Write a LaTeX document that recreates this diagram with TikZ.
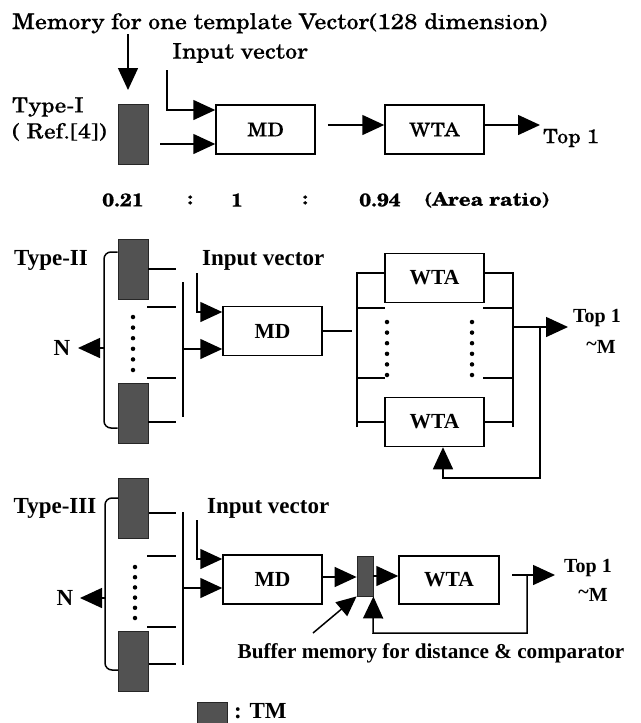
\documentclass[tikz,border=0pt]{standalone}
\usepackage{fontspec}
\setmainfont{Liberation Serif}
\newfontfamily\cent[FakeStretch=1.12,FakeBold=0.3]{TeX Gyre Schola}
\usetikzlibrary{arrows.meta}
\begin{document}
\begin{tikzpicture}[x=1pt,y=-1pt,
  ln/.style={line width=1.5pt},
  arr/.style={line width=1.5pt,-{Triangle[length=22pt,width=20pt]}},
  box/.style={draw,line width=1.5pt,inner sep=0pt,minimum width=99pt,minimum height=49pt},
  mem/.style={draw=black!85,fill=black!68,line width=0.8pt,inner sep=0pt,minimum width=30pt,minimum height=60pt},
  ct/.style={font=\cent\fontsize{21.5}{23}\selectfont},
  cts/.style={font=\cent\fontsize{19}{21}\selectfont},
  ctb/.style={font=\cent\bfseries\fontsize{18.5}{21}\selectfont},
  tb/.style={font=\bfseries\fontsize{23}{25}\selectfont},
  tbm/.style={font=\bfseries\fontsize{21.5}{24}\selectfont},
  tbs/.style={font=\bfseries\fontsize{20}{22}\selectfont},
  dotc/.style={circle,fill,inner sep=0pt,minimum size=4.5pt}]
\useasboundingbox[fill=white] (0,0) rectangle (640,723);

% ---------------- Type-I ----------------
\node[ct,anchor=base west,inner sep=0pt] (title) at (12,29) {Memory for one template Vector(128 dimension)};
\coordinate (t1s) at (128,34);
\coordinate (t1e) at (128,90);
\draw[arr] (t1s) -- (t1e);
\node[ct,font=\cent\fontsize{21}{23}\selectfont,anchor=west,inner sep=0pt] (type1) at (12,107) {Type-I};
\node[ct,font=\cent\fontsize{21}{23}\selectfont,anchor=west,inner sep=0pt] (ref1) at (12,132) {( Ref.[4])};
\node[mem] (m1) at (133,134) {};
\node[ct,anchor=west,inner sep=0pt] (iv1) at (172,53) {Input vector};
\node[box,cts] (md1) at (265.5,129.5) {MD};
\node[box,cts] (wta1) at (434.5,129.5) {WTA};
\coordinate (iv1s) at (167,70);
\draw[arr] (iv1s) |- (md1.west |- 0,110);
\draw[arr] ([xshift=12pt]m1.east |- 0,144) -- (md1.west |- 0,144);
\draw[arr] ([xshift=12pt]md1.east |- 0,125) -- (wta1.west |- 0,125);
\coordinate (o1) at (540,125);
\draw[arr] (wta1.east |- 0,125) -- (o1);
\node[cts,font=\cent\fontsize{19.5}{21}\selectfont,anchor=west,inner sep=0pt] (top1) at (543,138) {Top 1};
\node[ctb] (r1) at (123,200) {0.21};
\node[ctb] (r2) at (190,200) {:};
\node[ctb] (r3) at (237,200) {1};
\node[ctb] (r4) at (305,200) {:};
\node[ctb] (r5) at (380,200) {0.94};
\node[ctb] (r6) at (487,200) {(Area ratio)};

% ---------------- Type-II ----------------
\node[tb] (type2) at (51,260) {Type-II};
\node[mem] (m2a) at (133,269) {};
\node[mem] (m2b) at (133,413) {};
\draw[ln,rounded corners=7pt] (m2a.west |- 0,252) -- (104,252) -- (104,428) -- (m2b.west |- 0,428);
\node[tb] (n2) at (62,348) {N};
\coordinate (n2t) at (78,348);
\draw[arr] (104,348) -- (n2t);
\draw[ln] (m2a.east |- 0,269) -- (176,269);
\draw[ln] (147,307) -- (176,307);
\draw[ln] (147,378) -- (176,378);
\draw[ln] (m2b.east |- 0,422) -- (176,422);
\foreach \i in {0,...,5} \node[dotc] (d2\i) at (133,317+10.6*\i) {};
\draw[ln] (183,282) -- (183,417);
\node[box,tbm] (md2) at (272.5,331) {MD};
\draw[arr] (183,349) -- (md2.west |- 0,349);
\node[tb,anchor=west,inner sep=0pt] (iv2) at (202,260) {Input vector};
\coordinate (iv2s) at (197,273);
\draw[arr] (iv2s) |- (md2.west |- 0,312);
\node[box,tbm] (wta2a) at (434.5,278) {WTA};
\node[box,tbm] (wta2b) at (434.5,422) {WTA};
\draw[ln] (md2.east) -- (352,331);
\draw[ln] (357,427) -- (357,273) -- (wta2a.west |- 0,273);
\draw[ln] (357,308) -- (385,308);
\draw[ln] (357,378) -- (385,378);
\draw[ln] (357,422) -- (wta2b.west |- 0,422);
\draw[ln] (513,427) -- (513,273) -- (wta2a.east |- 0,273);
\draw[ln] (513,308) -- (483,308);
\draw[ln] (513,378) -- (483,378);
\draw[ln] (513,422) -- (wta2b.east |- 0,422);
\foreach \i in {0,...,5} \node[dotc] (dl2\i) at (387,322+10.6*\i) {};
\foreach \i in {0,...,5} \node[dotc] (dr2\i) at (472,322+10.6*\i) {};
\coordinate (o2) at (568,327);
\draw[arr] (513,327) -- (o2);
\draw[arr] (540,327) -- (540,478) -- (443,478) -- (wta2b.south -| 443,0);
\node[tbs] (top2) at (597,318) {Top 1};
\node[tbs] (m2) at (601,347) {\raisebox{0.35ex}{\textasciitilde}M};

% ---------------- Type-III ----------------
\node[tb] (type3) at (55,508) {Type-III};
\node[mem] (m3a) at (133.5,508) {};
\node[mem] (m3b) at (133.5,661.5) {};
\draw[ln,rounded corners=7pt] (m3a.west |- 0,498) -- (105,498) -- (105,670) -- (m3b.west |- 0,670);
\node[tb] (n3) at (65,598) {N};
\coordinate (n3t) at (80,598);
\draw[arr] (105,598) -- (n3t);
\draw[ln] (m3a.east |- 0,513) -- (176,513);
\draw[ln] (147,556) -- (176,556);
\draw[ln] (147,627) -- (176,627);
\draw[ln] (m3b.east |- 0,664) -- (176,664);
\foreach \i in {0,...,5} \node[dotc] (d3\i) at (135,567+10.2*\i) {};
\draw[ln] (183,512) -- (183,665);
\node[box,tbm] (md3) at (272.5,579.5) {MD};
\draw[arr] (183,588) -- (md3.west |- 0,588);
\node[tb,anchor=west,inner sep=0pt] (iv3) at (207,508) {Input vector};
\coordinate (iv3s) at (197,520);
\draw[arr] (iv3s) |- (md3.west |- 0,559);
\node[mem,minimum width=16pt,minimum height=40pt] (buf) at (365,576) {};
\node[box,tbm,minimum width=100pt,minimum height=48pt] (wta3) at (449,580) {WTA};
\draw[arr] (md3.east |- 0,577) -- (buf.west |- 0,577);
\draw[arr] (buf.east |- 0,576) -- (wta3.west |- 0,576);
\coordinate (o3) at (555,575);
\draw[ln] (512,575) -- (527,575);
\draw[arr] (527,575) -- (o3);
\draw[arr] (527,575) -- (527,633) -- (373,633) -- (buf.south east);
\coordinate (ptr) at (313,633);
\draw[arr,-{Triangle[length=20pt,width=18pt]}] (ptr) -- (buf.south west);
\node[font=\bfseries\fontsize{21.2}{23}\selectfont] (buftxt) at (431,653) {Buffer memory for distance \& comparator};
\node[tbs] (top3) at (588,568) {Top 1};
\node[tbs] (m3) at (593,595) {\raisebox{0.35ex}{\textasciitilde}M};

% legend
\node[mem,minimum width=30pt,minimum height=22pt] (leg) at (212,713) {};
\node[font=\bfseries\fontsize{23}{25}\selectfont,anchor=base west,inner sep=0pt,text depth=0pt] (legt) at (234,718) {: TM};
\end{tikzpicture}
\end{document}
